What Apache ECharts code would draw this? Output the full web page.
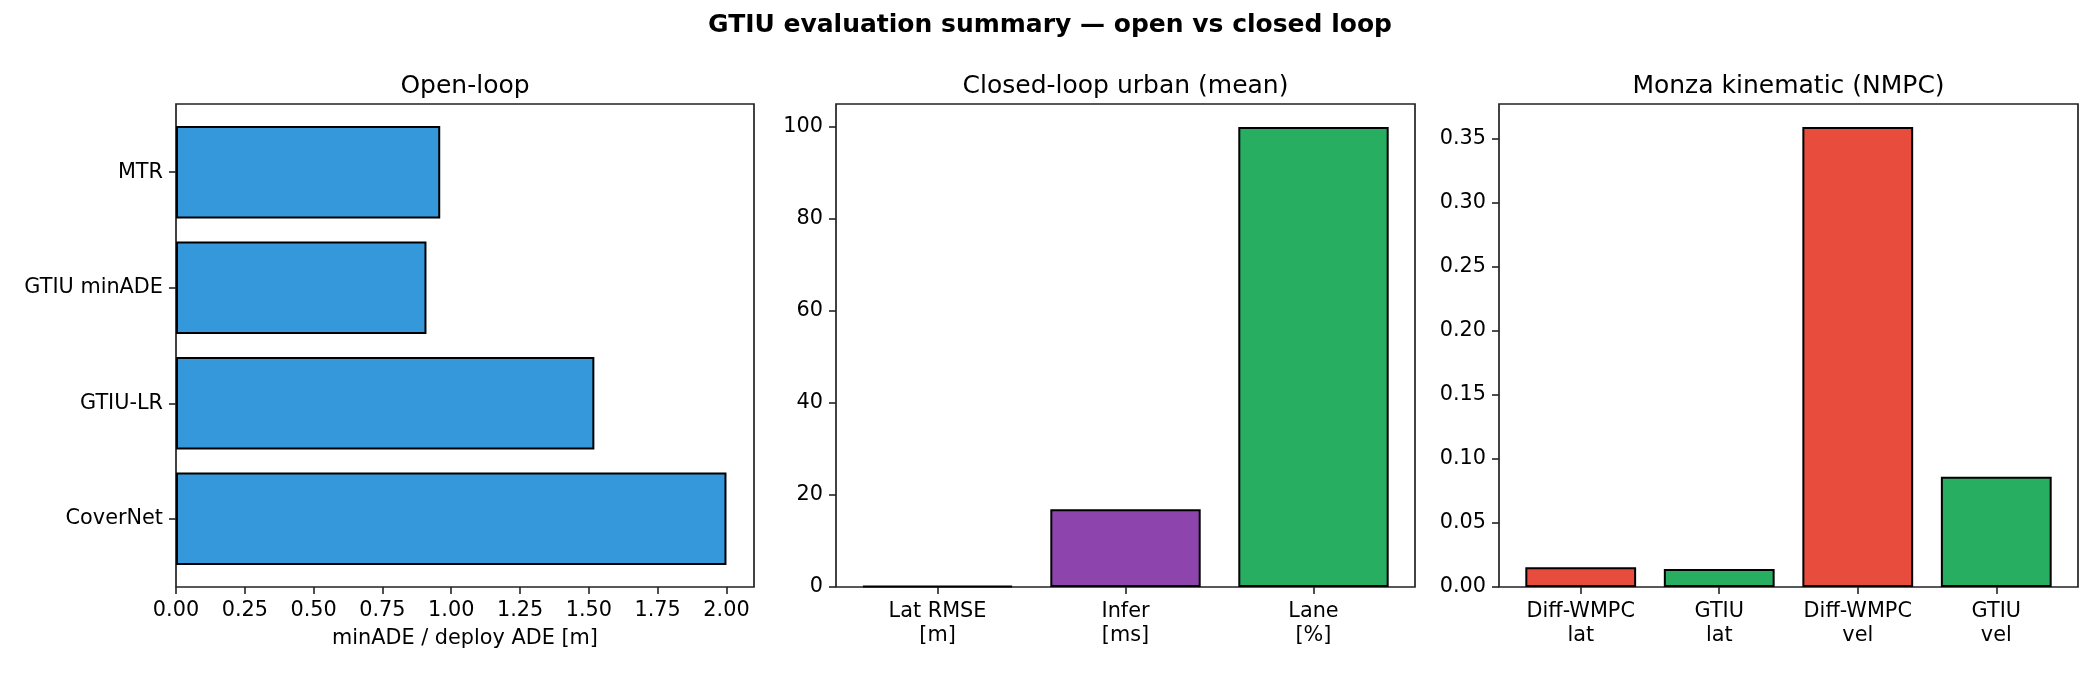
<!DOCTYPE html>
<html>
<head>
<meta charset="utf-8">
<script src="https://cdn.jsdelivr.net/npm/echarts@6/dist/echarts.min.js"></script>
<style>
  html, body { margin: 0; padding: 0; background: #fff; }
  #chart { width: 2100px; height: 675px; }
</style>
</head>
<body>
<div id="chart"></div>
<script>
// data
var openCats = ['CoverNet', 'GTIU-LR', 'GTIU minADE', 'MTR'];
var openVals = [2.0, 1.52, 0.91, 0.96];
var openTicks = [0, 0.25, 0.5, 0.75, 1.0, 1.25, 1.5, 1.75, 2.0];

var closedCats = ['Lat RMSE\n[m]', 'Infer\n[ms]', 'Lane\n[%]'];
var closedVals = [0.25, 16.9, 100];
var closedTicks = [0, 20, 40, 60, 80, 100];

var monzaCats = ['Diff-WMPC\nlat', 'GTIU\nlat', 'Diff-WMPC\nvel', 'GTIU\nvel'];
var monzaVals = [0.0155, 0.014, 0.359, 0.086];
var monzaTicks = [0, 0.05, 0.1, 0.15, 0.2, 0.25, 0.3, 0.35];

var openColor = '#3498db';
var closedColors = ['#3498db', '#8e44ad', '#27ae60'];
var monzaColors = ['#e74c3c', '#27ae60', '#e74c3c', '#27ae60'];

var FONT = 'DejaVu Sans';
var INK = '#222';

var chart = echarts.init(document.getElementById('chart'));

// panel frames (matplotlib axes boxes)
var panels = [
  { left: 176, top: 104, width: 578, height: 483 },
  { left: 836, top: 104, width: 579, height: 483 },
  { left: 1499, top: 104, width: 579, height: 483 }
];

// matplotlib adds 5% margins around bars, so the category bands sit a little inside the frame
var openInset = 483 * 0.09 / 4.18;
var closedInset = 579 * 0.04 / 3.08;
var monzaInset = 579 * 0.09 / 4.18;

var tickStyle = { show: true, inside: false, length: 7, lineStyle: { color: INK, width: 1.6 } };
var labelStyle = { color: '#000', fontFamily: FONT, fontSize: 20.8 };

function frameGrid(p) {
  return {
    left: p.left, top: p.top, width: p.width, height: p.height,
    show: true, borderColor: INK, borderWidth: 1.7, backgroundColor: 'transparent',
    outerBoundsMode: 'none'
  };
}

function hiddenValue(gridIndex, max) {
  return { type: 'value', gridIndex: gridIndex, min: 0, max: max, show: false };
}

var option = {
  animation: false,
  backgroundColor: '#fff',
  grid: [
    frameGrid(panels[0]),
    frameGrid(panels[1]),
    frameGrid(panels[2]),
    { left: 176, top: 104 + openInset, width: 578, height: 483 - 2 * openInset, outerBoundsMode: 'none' },
    { left: 836 + closedInset, top: 104, width: 579 - 2 * closedInset, height: 483, outerBoundsMode: 'none' },
    { left: 1499 + monzaInset, top: 104, width: 579 - 2 * monzaInset, height: 483, outerBoundsMode: 'none' }
  ],
  xAxis: [
    {
      type: 'value', gridIndex: 0, min: 0, max: 2.1,
      axisLine: { show: false },
      axisTick: Object.assign({ customValues: openTicks }, tickStyle),
      splitLine: { show: false },
      axisLabel: Object.assign({
        customValues: openTicks, margin: 13,
        formatter: function (v) { return v.toFixed(2); }
      }, labelStyle),
      name: 'minADE / deploy ADE [m]', nameLocation: 'middle', nameGap: 41,
      nameTextStyle: { color: '#000', fontFamily: FONT, fontSize: 20.8 }
    },
    { type: 'value', gridIndex: 1, min: 0, max: 1, show: false },
    { type: 'value', gridIndex: 2, min: 0, max: 1, show: false },
    hiddenValue(3, 2.1),
    {
      type: 'category', gridIndex: 4, data: closedCats,
      axisLine: { show: false },
      axisTick: Object.assign({ alignWithLabel: true }, tickStyle),
      axisLabel: Object.assign({ margin: 13, lineHeight: 24, interval: 0 }, labelStyle)
    },
    {
      type: 'category', gridIndex: 5, data: monzaCats,
      axisLine: { show: false },
      axisTick: Object.assign({ alignWithLabel: true }, tickStyle),
      axisLabel: Object.assign({ margin: 13, lineHeight: 24, interval: 0 }, labelStyle)
    }
  ],
  yAxis: [
    { type: 'value', gridIndex: 0, min: 0, max: 1, show: false },
    {
      type: 'value', gridIndex: 1, min: 0, max: 105,
      axisLine: { show: false },
      axisTick: Object.assign({ customValues: closedTicks }, tickStyle),
      splitLine: { show: false },
      axisLabel: Object.assign({ customValues: closedTicks, margin: 13 }, labelStyle)
    },
    {
      type: 'value', gridIndex: 2, min: 0, max: 0.377,
      axisLine: { show: false },
      axisTick: Object.assign({ customValues: monzaTicks }, tickStyle),
      splitLine: { show: false },
      axisLabel: Object.assign({
        customValues: monzaTicks, margin: 13,
        formatter: function (v) { return v.toFixed(2); }
      }, labelStyle)
    },
    {
      type: 'category', gridIndex: 3, data: openCats,
      axisLine: { show: false },
      axisTick: Object.assign({ alignWithLabel: true }, tickStyle),
      axisLabel: Object.assign({ margin: 13, interval: 0 }, labelStyle)
    },
    hiddenValue(4, 105),
    hiddenValue(5, 0.377)
  ],
  series: [
    {
      type: 'bar', xAxisIndex: 3, yAxisIndex: 3,
      data: openVals,
      barCategoryGap: '20%',
      itemStyle: { color: openColor, borderColor: '#000', borderWidth: 2 }
    },
    {
      type: 'bar', xAxisIndex: 4, yAxisIndex: 4,
      data: closedVals.map(function (v, i) {
        return { value: v, itemStyle: { color: closedColors[i] } };
      }),
      barCategoryGap: '20%',
      itemStyle: { borderColor: '#000', borderWidth: 2 }
    },
    {
      type: 'bar', xAxisIndex: 5, yAxisIndex: 5,
      data: monzaVals.map(function (v, i) {
        return { value: v, itemStyle: { color: monzaColors[i] } };
      }),
      barCategoryGap: '20%',
      itemStyle: { borderColor: '#000', borderWidth: 2 }
    }
  ],
  graphic: [
    {
      type: 'text', x: 1050, y: 25,
      style: {
        text: 'GTIU evaluation summary \u2014 open vs closed loop',
        fill: '#000', font: 'bold 25px "DejaVu Sans"',
        textAlign: 'center', textVerticalAlign: 'middle'
      }
    },
    {
      type: 'text', x: 465, y: 86,
      style: { text: 'Open-loop', fill: '#000', font: '25px "DejaVu Sans"', textAlign: 'center', textVerticalAlign: 'middle' }
    },
    {
      type: 'text', x: 1125.5, y: 86,
      style: { text: 'Closed-loop urban (mean)', fill: '#000', font: '25px "DejaVu Sans"', textAlign: 'center', textVerticalAlign: 'middle' }
    },
    {
      type: 'text', x: 1788.5, y: 86,
      style: { text: 'Monza kinematic (NMPC)', fill: '#000', font: '25px "DejaVu Sans"', textAlign: 'center', textVerticalAlign: 'middle' }
    }
  ]
};

chart.setOption(option);

window.addEventListener('resize', function () {
  chart.resize();
});
</script>
</body>
</html>
